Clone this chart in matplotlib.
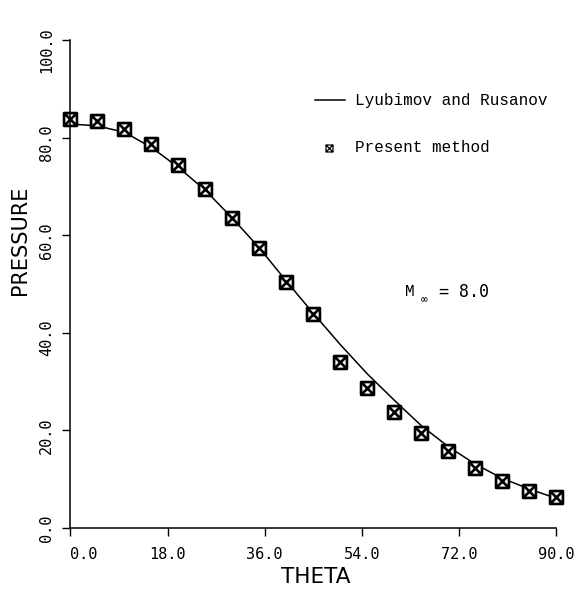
import matplotlib
matplotlib.use('Agg')
import matplotlib.pyplot as plt
from matplotlib.path import Path
from matplotlib.transforms import ScaledTranslation
import numpy as np

# Lyubimov and Rusanov curve
theta_curve = [0, 5, 10, 15, 20, 25, 30, 35, 40, 45,
               50, 55, 60, 65, 70, 75, 80, 85, 90]
p_curve = [82.8, 82.4, 81.1, 78.0, 73.9, 69.2, 63.5, 57.4, 50.6, 44.0,
           37.6, 31.6, 26.2, 21.0, 16.7, 13.1, 10.2, 8.0, 6.1]

# Present method
theta_pts = [0, 5, 10, 15, 20, 25, 30, 35, 40, 45,
             50, 55, 60, 65, 70, 75, 80, 85, 90]
p_pts = [83.8, 83.4, 81.8, 78.7, 74.4, 69.5, 63.5, 57.4, 50.4, 43.9,
         34.0, 28.7, 23.8, 19.5, 15.8, 12.3, 9.6, 7.6, 6.4]

xticks = [0, 18, 36, 54, 72, 90]
yticks = [0, 20, 40, 60, 80, 100]

# square with a cross inside
boxx = Path([(-1, -1), (1, -1), (1, 1), (-1, 1), (-1, -1),
             (-1, -1), (1, 1), (-1, 1), (1, -1)],
            [Path.MOVETO, Path.LINETO, Path.LINETO, Path.LINETO, Path.CLOSEPOLY,
             Path.MOVETO, Path.LINETO, Path.MOVETO, Path.LINETO])

mono = 'DejaVu Sans Mono'
courier = 'Liberation Mono'

fig = plt.figure(figsize=(5.85, 5.93), dpi=100)
ax = fig.add_axes([0.1205, 0.1096, 0.830, 0.8229])

ax.plot(theta_curve, p_curve, color='black', lw=1.1, clip_on=False)
ax.plot(theta_pts, p_pts, ls='none', marker=boxx, ms=9.3, mew=1.9,
        mec='black', mfc='white', clip_on=False)

ax.set_xlim(0, 90)
ax.set_ylim(0, 100)
ax.spines['top'].set_visible(False)
ax.spines['right'].set_visible(False)
ax.spines['left'].set_linewidth(1.1)
ax.spines['bottom'].set_linewidth(1.1)

ax.set_xticks(xticks)
ax.set_xticklabels(['%.1f' % v for v in xticks], fontfamily=mono, fontsize=11)
ax.set_yticks(yticks)
ax.set_yticklabels(['%.1f' % v for v in yticks], fontfamily=mono, fontsize=11)
ax.tick_params(axis='x', direction='out', length=6, width=1, pad=8)
ax.tick_params(axis='y', direction='out', length=6, width=1, pad=6,
               labelrotation=90)
ax.get_xticklabels()[0].set_ha('left')
# y labels sit a little above their ticks in the original
shift = ScaledTranslation(0, 5 / 72, fig.dpi_scale_trans)
for lab in ax.get_yticklabels():
    lab.set_transform(lab.get_transform() + shift)

ax.set_xlabel('THETA', fontsize=15.5)
ax.xaxis.set_label_coords(0.506, -0.080)
ax.set_ylabel('PRESSURE', fontsize=15)
ax.yaxis.set_label_coords(-0.083, 0.59)

# legend
ax.plot([0.504, 0.566], [0.877, 0.877], color='black', lw=1.1,
        transform=ax.transAxes)
ax.text(0.586, 0.877, 'Lyubimov and Rusanov', transform=ax.transAxes,
        fontfamily=courier, fontsize=11.5, va='center', ha='left')
ax.plot([0.532], [0.779], ls='none', marker=boxx, ms=5, mew=0.9,
        mec='black', mfc='white', transform=ax.transAxes)
ax.text(0.586, 0.779, 'Present method', transform=ax.transAxes,
        fontfamily=courier, fontsize=11.5, va='center', ha='left')

ax.text(0.699, 0.484, 'M', transform=ax.transAxes,
        fontfamily=courier, fontsize=11.5, va='center', ha='center')
ax.text(0.729, 0.466, '\u221e', transform=ax.transAxes,
        fontfamily=mono, fontsize=8, va='center', ha='center')
ax.text(0.758, 0.484, '= 8.0', transform=ax.transAxes,
        fontfamily=mono, fontsize=12, va='center', ha='left')

fig.savefig('out.png', dpi=100)
